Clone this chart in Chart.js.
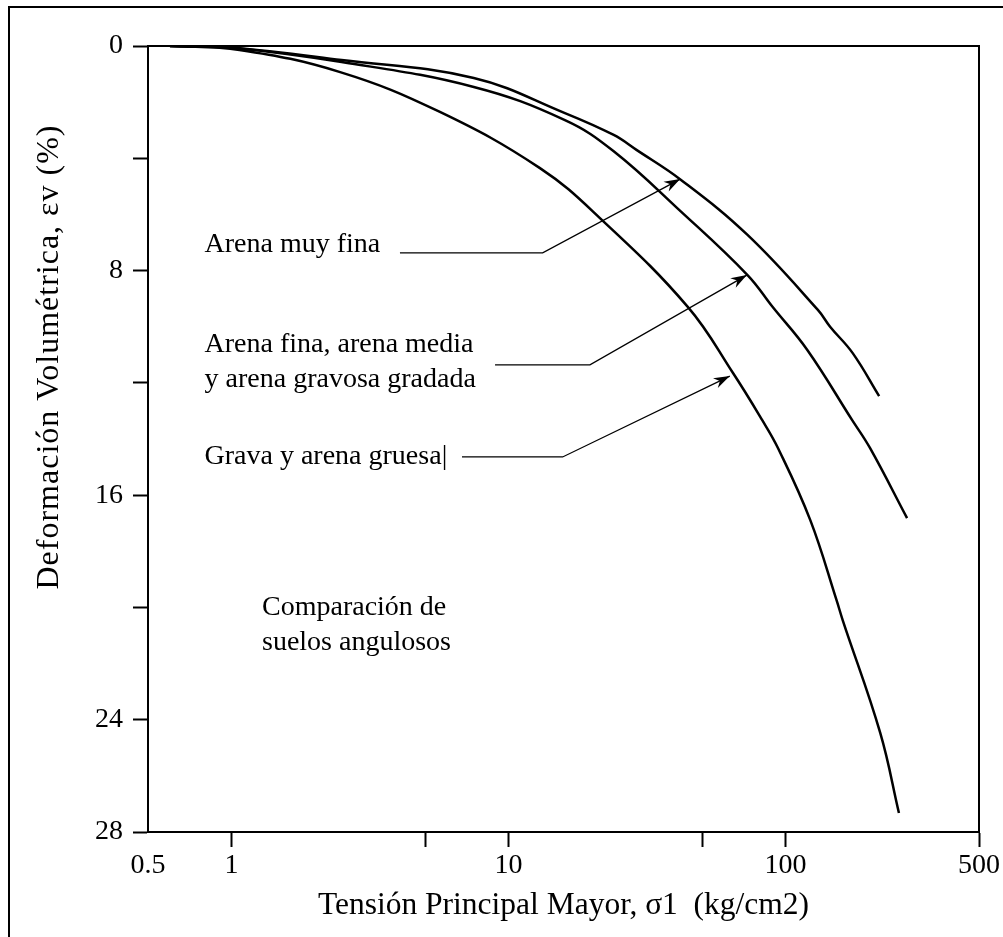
<!DOCTYPE html>
<html>
<head>
<meta charset="utf-8">
<script src="https://cdn.jsdelivr.net/npm/chart.js@4"></script>
<style>
  html, body { margin: 0; padding: 0; background: #fff; }
  #wrap { width: 1003px; height: 937px; }
</style>
</head>
<body>
<div id="wrap"><canvas id="chart" width="1003" height="937"></canvas></div>
<script>
// values (sigma1 in kg/cm2, volumetric strain in %)
const muyFina = [[0.6, 0], [1, 0.05], [2.5, 0.5], [7.5, 1.14], [16, 2.39], [24, 3.17], [29, 3.7],
  [42, 4.77], [73, 6.73], [131, 9.4], [145, 10.0], [175, 10.94], [218, 12.47]]
const finaMedia = [[0.6, 0], [1, 0.06], [2.5, 0.57], [7.5, 1.46], [16, 2.64], [24, 3.75], [42, 5.9],
  [73, 8.16], [90, 9.3], [120, 10.83], [174, 13.32], [202, 14.32], [275, 16.82]]
const gravaGruesa = [[0.6, 0], [1.07, 0.14], [2.47, 0.93], [5.66, 2.35], [13, 4.35], [21.4, 6.13],
  [44.5, 9.3], [64.7, 11.65], [82.4, 13.32], [94, 14.32], [123, 16.89], [153, 19.74], [161, 20.45],
  [220, 24.47], [257, 27.32]]

const xTicks = [0.5, 1, 5, 10, 50, 100, 500]
const xLabels = [0.5, 1, 10, 100, 500]
const yTicks = [0, 4, 8, 12, 16, 20, 24, 28]
const yLabels = [0, 8, 16, 24, 28]

// labels with their leader arrows: text anchor, line start, elbow, arrow tip (data coords)
const notes = [
  { text: ['Arena muy fina'], at: [0.8, 7.09], from: [4.06, 7.37], elbow: [13.3, 7.37], tip: [41.7, 4.74] },
  { text: ['Arena fina, arena media', 'y arena gravosa gradada'], at: [0.8, 10.65], from: [8.95, 11.36], elbow: [19.7, 11.36], tip: [72.6, 8.16] },
  { text: ['Grava y arena gruesa|'], at: [0.8, 14.64], from: [6.8, 14.64], elbow: [15.7, 14.64], tip: [63, 11.76] }
]
const caption = { text: ['Comparación de', 'suelos angulosos'], at: [1.29, 19.99] }
const yTitle = 'Deformación Volumétrica, εv (%)'

const FONT = "'Liberation Serif', 'Times New Roman', serif"
const toXY = arr => arr.map(p => ({ x: p[0], y: p[1] }))

const decor = {
  id: 'decor',
  afterDraw(chart) {
    const { ctx, chartArea: a, scales: { x, y } } = chart
    const px = p => [x.getPixelForValue(p[0]), y.getPixelForValue(p[1])]
    ctx.save()
    // outer frame (top and left only)
    ctx.strokeStyle = '#000'
    ctx.lineWidth = 2
    ctx.beginPath()
    ctx.moveTo(1003, 7); ctx.lineTo(9, 7); ctx.lineTo(9, 937)
    ctx.stroke()
    // plot box
    ctx.strokeRect(a.left, a.top, a.right - a.left, a.bottom - a.top)

    ctx.font = '28px ' + FONT
    ctx.fillStyle = '#000'
    ctx.textBaseline = 'middle'
    ctx.textAlign = 'left'
    notes.forEach(n => {
      const [tx, ty] = px(n.at)
      n.text.forEach((t, i) => ctx.fillText(t, tx, ty + i * 35))
      const s = px(n.from), e = px(n.elbow), t = px(n.tip)
      ctx.lineWidth = 1.3
      ctx.beginPath()
      ctx.moveTo(s[0], s[1]); ctx.lineTo(e[0], e[1]); ctx.lineTo(t[0], t[1])
      ctx.stroke()
      const c = Math.cos(Math.atan2(t[1] - e[1], t[0] - e[0]))
      const sn = Math.sin(Math.atan2(t[1] - e[1], t[0] - e[0]))
      ctx.beginPath()
      ctx.moveTo(t[0], t[1])
      ctx.lineTo(t[0] - 16 * c + 5.5 * sn, t[1] - 16 * sn - 5.5 * c)
      ctx.lineTo(t[0] - 11 * c, t[1] - 11 * sn)
      ctx.lineTo(t[0] - 16 * c - 5.5 * sn, t[1] - 16 * sn + 5.5 * c)
      ctx.closePath()
      ctx.fill()
    })
    const [cx, cy] = px(caption.at)
    caption.text.forEach((t, i) => ctx.fillText(t, cx, cy + i * 35))

    // y axis title, centred where the original has it
    ctx.translate(50, 357)
    ctx.rotate(-Math.PI / 2)
    ctx.textAlign = 'center'
    ctx.font = '32px ' + FONT
    ctx.letterSpacing = '1px'
    ctx.fillText(yTitle, 0, 0)
    ctx.restore()
  }
}

const lineStyle = { borderColor: '#000', borderWidth: 2.5, pointRadius: 0, tension: 0.4, fill: false }

new Chart(document.getElementById('chart'), {
  type: 'line',
  data: {
    datasets: [
      Object.assign({ label: 'Arena muy fina', data: toXY(muyFina) }, lineStyle),
      Object.assign({ label: 'Arena fina, arena media y arena gravosa gradada', data: toXY(finaMedia) }, lineStyle),
      Object.assign({ label: 'Grava y arena gruesa', data: toXY(gravaGruesa) }, lineStyle)
    ]
  },
  options: {
    responsive: false,
    animation: false,
    layout: { padding: { left: 0, top: 46, right: 24, bottom: 0 } },
    plugins: { legend: { display: false }, tooltip: { enabled: false } },
    scales: {
      x: {
        type: 'logarithmic',
        min: 0.5,
        max: 500,
        afterBuildTicks: s => { s.ticks = xTicks.map(v => ({ value: v })) },
        afterFit: s => { s.height = 105 },
        border: { display: true, color: '#000', width: 2 },
        grid: {
          drawOnChartArea: false,
          drawTicks: true,
          tickLength: 15,
          tickWidth: 2,
          tickColor: c => (c.tick && c.tick.value === 0.5 ? 'rgba(0,0,0,0)' : '#000')
        },
        ticks: {
          autoSkip: false,
          maxRotation: 0,
          padding: 2,
          color: '#000',
          font: { family: FONT, size: 28 },
          callback: v => (xLabels.includes(v) ? String(v) : '')
        },
        title: {
          display: true,
          text: 'Tensión Principal Mayor, σ1  (kg/cm2)',
          color: '#000',
          font: { family: FONT, size: 31.5 },
          padding: { top: 0, bottom: 12 }
        }
      },
      y: {
        type: 'linear',
        min: 0,
        max: 28,
        reverse: true,
        afterBuildTicks: s => { s.ticks = yTicks.map(v => ({ value: v })) },
        afterFit: s => { s.width = 148 },
        border: { display: true, color: '#000', width: 2 },
        grid: { drawOnChartArea: false, drawTicks: true, tickLength: 15, tickWidth: 2, tickColor: '#000' },
        ticks: {
          autoSkip: false,
          padding: 10,
          color: '#000',
          font: { family: FONT, size: 28 },
          callback: v => (yLabels.includes(v) ? String(v) : '')
        },
        title: { display: false }
      }
    }
  },
  plugins: [decor]
})
</script>
</body>
</html>
